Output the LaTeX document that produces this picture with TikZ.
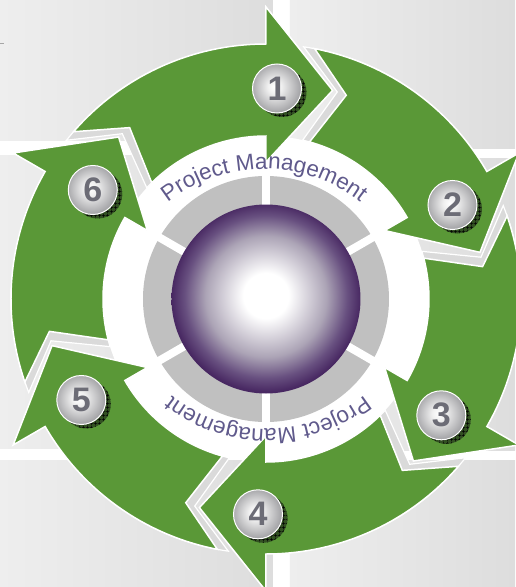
\documentclass[tikz,border=0pt]{standalone}
\usepackage{fontspec}
\newfontfamily\pmfont{Liberation Sans}
\usetikzlibrary{decorations.text,patterns.meta}

\definecolor{arrowgreen}{RGB}{90,152,55}
\definecolor{tilelight}{RGB}{238,238,238}
\definecolor{tiledark}{RGB}{221,221,221}
\definecolor{bandgray}{RGB}{218,218,218}
\definecolor{ringgray}{RGB}{192,192,192}
\definecolor{spheredark}{RGB}{72,40,98}
\definecolor{spherehalf}{RGB}{104,80,128}
\definecolor{spheremid}{RGB}{172,164,182}
\definecolor{labelpurple}{RGB}{96,90,140}
\definecolor{digitgray}{RGB}{108,108,118}
\definecolor{shadowgreen}{RGB}{50,80,34}
\definecolor{badgerim}{RGB}{165,165,168}

\pgfdeclareradialshading{sphereshade}{\pgfpoint{0bp}{1bp}}{%
  color(0bp)=(white); color(6bp)=(white); color(16bp)=(spheremid);
  color(21.5bp)=(spherehalf); color(25bp)=(spheredark); color(50bp)=(spheredark)}
\pgfdeclareradialshading{badgeshade}{\pgfpoint{-3bp}{2bp}}{%
  color(0bp)=(white); color(7bp)=(white!94!black); color(25bp)=(badgerim);
  color(50bp)=(badgerim)}

\begin{document}
\begin{tikzpicture}[x=1pt,y=1pt,
    tile/.style={left color=tilelight,right color=tiledark},
    arrowbody/.style={fill=arrowgreen,draw=white,line width=1.5pt},
    arrowband/.style={fill=bandgray,draw=white,line width=1.2pt},
    badge/.style={circle,minimum size=49pt,inner sep=0pt,shade,shading=badgeshade,
      draw=white,line width=1pt,text=digitgray,
      font=\pmfont\bfseries\fontsize{34}{34}\selectfont},
    pmlabel/.style={decorate,decoration={text along path,text align=center,
      text={|\pmfont\fontsize{22.5}{22.5}\selectfont\color{labelpurple}|Project Management}}}]
  \useasboundingbox (-266,-288) rectangle (249,299);
  \fill[white] (-266,-288) rectangle (249,299);

  % ================= background tiles =================
  \shade[tile] (-266,159) rectangle (7,299);
  \shade[tile] (24,151) rectangle (249,299);
  \shade[tile] (-266,-149) rectangle (7,144);
  \shade[tile] (24,-151) rectangle (249,141);
  \shade[tile] (-266,-288) rectangle (7,-161);
  \shade[tile] (24,-288) rectangle (249,-161);
  \draw[gray!70,line width=0.8pt] (-266,256) -- (-262,256);

  % white disc behind the ring
  \fill[white] (0,0) circle (163);

  % ================= green arrows =================
  \def\arrowshape{(139:255) arc[start angle=139,end angle=90,radius=255]
    -- (90:292) -- (72.3:219) -- (90:137) -- (90:163)
    arc[start angle=90,end angle=134.5,radius=163] -- (128.5:219) -- cycle}
  \def\tailshape{(141.5:255) arc[start angle=141.5,end angle=118,radius=255]
    -- (118:163) arc[start angle=118,end angle=137,radius=163] -- (131:219) -- cycle}
  % grey band behind each tail notch
  \foreach \k in {0,...,5} {
    \begin{scope}[rotate=-60*\k]
      \path[arrowband] \tailshape;
    \end{scope}
  }
  \foreach \k in {0,...,5} {
    \begin{scope}[rotate=-60*\k]
      \path[arrowbody] \arrowshape;
    \end{scope}
  }

  % ================= grey ring and sphere =================
  \fill[ringgray] (0,0) circle (123);
  \foreach \a in {30,90,...,330}
    \draw[white,line width=8pt] (\a:88) -- (\a:126);
  \path[shade,shading=sphereshade] (0,0) circle (94.5);

  % curved labels
  \path[pmlabel,shift={(-2,-26)}] (150:156) arc[start angle=150,end angle=30,radius=156];
  \path[pmlabel,shift={(2,26)}] (-30:156) arc[start angle=-30,end angle=-150,radius=156];

  % ================= numbered badges =================
  \foreach \n/\bx/\by in {1/11/210.5,2/186.5/94,3/175.3/-116.3,
                          4/-8/-215.3,5/-184.7/-101,6/-173.2/109} {
    \fill[shadowgreen] (\bx+5,\by-4) circle (24.5);
    \path[pattern={Hatch[angle=0,distance=4pt,line width=0.5pt]},pattern color=black]
      (\bx+5,\by-4) circle (24.5);
    \node[badge] (badge\n) at (\bx,\by) {\n};
  }
\end{tikzpicture}
\end{document}
